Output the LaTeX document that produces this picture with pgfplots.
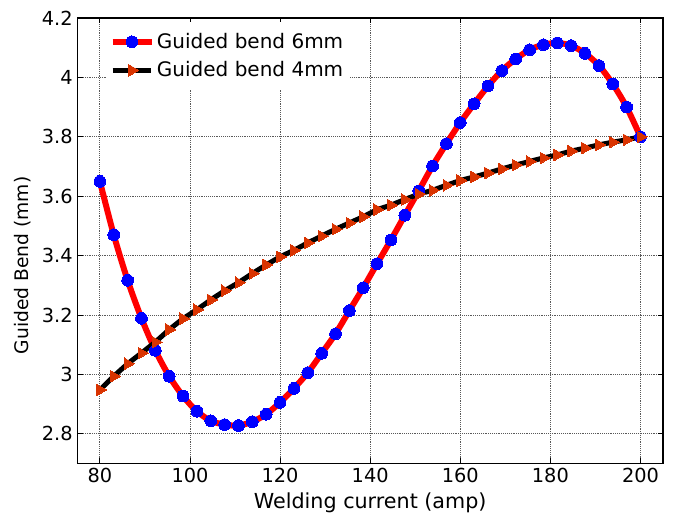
\documentclass[border=0pt]{standalone}
\usepackage{fontspec}
\setmainfont{DejaVu Sans}
\usepackage{pgfplots}
\pgfplotsset{compat=1.18}
\definecolor{triorange}{rgb}{0.85,0.2,0.0}
\begin{document}
\begin{tikzpicture}
\begin{axis}[
 scale only axis, width=439pt, height=334pt,
 xmin=75, xmax=205, ymin=2.7, ymax=4.2,
 xtick={80,100,120,140,160,180,200},
 ytick={2.8,3,3.2,3.4,3.6,3.8,4,4.2},
 yticklabels={2.8,3,3.2,3.4,3.6,3.8,4,4.2},
 /pgf/number format/assume math mode=true,
 tick label style={font=\fontsize{14.5}{17}\selectfont},
 grid=major,
 major grid style={densely dotted, black!65, line width=0.6pt},
 tick align=inside, major tick length=4pt,
 axis line style={line width=1pt},
 every tick/.style={black, line width=0.6pt},
 xlabel={Welding current (amp)},
 ylabel={Guided Bend (mm)},
 label style={font=\fontsize{15.5}{18}\selectfont},
 xlabel style={at={(axis description cs:0.5,0)}, anchor=center, yshift=-29.5pt},
 ylabel style={at={(axis description cs:-0.0927,0.445)}, anchor=center, font=\fontsize{14}{17}\selectfont},
 legend style={at={(0.05,0.992)}, anchor=north west, draw=none, fill=white,
   font=\fontsize{15}{18}\selectfont, row sep=4.5pt, inner xsep=2pt, inner ysep=6.5pt},
 legend cell align=left,
 legend image code/.code={\draw[mark repeat=2, mark phase=2, #1] plot coordinates {(0pt,0pt) (14.5pt,0pt) (29pt,0pt)};},
]
\addplot[red, line width=4.5pt, smooth, tension=0.5, mark=*, mark size=4.4pt,
  mark options={blue, fill=blue, line width=0pt, draw=blue}] coordinates {
(80,3.650) (83.077,3.470) (86.154,3.317) (89.231,3.189) (92.308,3.081)
(95.385,2.994) (98.462,2.927) (101.538,2.876) (104.615,2.844) (107.692,2.831)
(110.769,2.828) (113.846,2.841) (116.923,2.866) (120,2.906) (123.077,2.953)
(126.154,3.006) (129.231,3.071) (132.308,3.137) (135.385,3.215) (138.462,3.292)
(141.538,3.373) (144.615,3.453) (147.692,3.536) (150.769,3.618) (153.846,3.702)
(156.923,3.777) (160,3.848) (163.077,3.911) (166.154,3.971) (169.231,4.023)
(172.308,4.062) (175.385,4.093) (178.462,4.110) (181.538,4.116) (184.615,4.107)
(187.692,4.081) (190.769,4.040) (193.846,3.978) (196.923,3.900) (200,3.800)
};
\addlegendentry{Guided bend 6mm}
\addplot[black, line width=3.75pt, mark=triangle*, mark size=5pt,
  mark options={triorange, fill=triorange, draw=triorange, line width=0pt, rotate=-90}] coordinates {
(80,2.948) (83.077,2.994) (86.154,3.036) (89.231,3.072) (92.308,3.109)
(95.385,3.151) (98.462,3.188) (101.538,3.218) (104.615,3.251) (107.692,3.282)
(110.769,3.309) (113.846,3.340) (116.923,3.369) (120,3.396) (123.077,3.418)
(126.154,3.443) (129.231,3.466) (132.308,3.489) (135.385,3.510) (138.462,3.531)
(141.538,3.555) (144.615,3.570) (147.692,3.589) (150.769,3.607) (153.846,3.620)
(156.923,3.637) (160,3.653) (163.077,3.665) (166.154,3.678) (169.231,3.692)
(172.308,3.705) (175.385,3.717) (178.462,3.729) (181.538,3.739) (184.615,3.752)
(187.692,3.762) (190.769,3.773) (193.846,3.782) (196.923,3.790) (200,3.800)
};
\addlegendentry{Guided bend 4mm}
\end{axis}
\pgfresetboundingbox
\path (current axis.south west) ++(-58pt,-39.5pt) rectangle ([shift={(12.75pt,13.5pt)}]current axis.north east);
\end{tikzpicture}
\end{document}
